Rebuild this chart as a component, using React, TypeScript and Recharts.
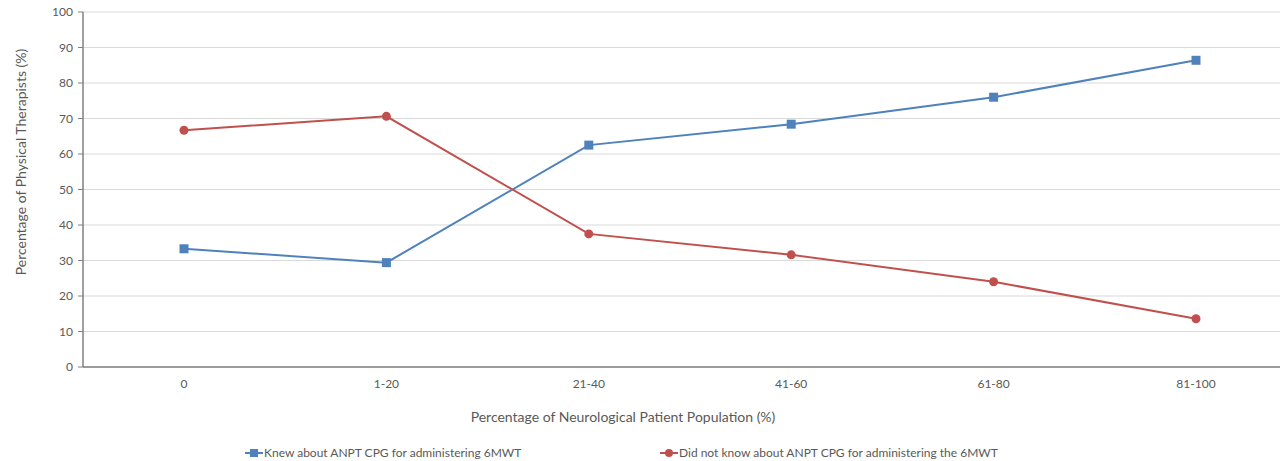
import { CartesianGrid, Legend, Line, LineChart, XAxis, YAxis } from "recharts";

const categories = ["0", "1-20", "21-40", "41-60", "61-80", "81-100"];
const knew = [33.3, 29.4, 62.5, 68.4, 76.0, 86.4];
const didNotKnow = [66.7, 70.6, 37.5, 31.6, 24.0, 13.6];
const yTicks = [0, 10, 20, 30, 40, 50, 60, 70, 80, 90, 100];
const seriesOrder = ["knew", "didNotKnow"];

const data = categories.map((c, i) => ({
  cat: c,
  knew: knew[i],
  didNotKnow: didNotKnow[i],
}));

const FONT = "Lato, 'Open Sans', sans-serif";
const BLUE = "#4F81BD";
const RED = "#C0504D";
const TEXT = "#595959";

const SquareDot = (props: any) => {
  const { cx, cy } = props;
  if (cx == null || cy == null) return null;
  return <rect x={cx - 4.5} y={cy - 4.5} width={9} height={9} fill={BLUE} />;
};

const legendOffsets = [245, 660];

const LegendContent = (props: any) => {
  const items = [...(props.payload || [])].sort(
    (a: any, b: any) => seriesOrder.indexOf(a.dataKey) - seriesOrder.indexOf(b.dataKey)
  );
  return (
    <div style={{ position: "relative", height: 16, fontFamily: FONT, fontSize: 12, color: TEXT }}>
      {items.map((p: any, i: number) => (
        <div
          key={p.value}
          style={{ position: "absolute", left: legendOffsets[i], top: 0, display: "flex", alignItems: "center", whiteSpace: "nowrap" }}
        >
          <svg width={18} height={10} style={{ marginRight: 1 }}>
            <line x1={0} y1={5} x2={18} y2={5} stroke={p.color} strokeWidth={2} />
            {p.dataKey === "knew" ? (
              <rect x={5} y={1} width={8} height={8} fill={p.color} />
            ) : (
              <circle cx={9} cy={5} r={4} fill={p.color} />
            )}
          </svg>
          <span>{p.value}</span>
        </div>
      ))}
    </div>
  );
};

export default function App() {
  return (
    <div style={{ marginLeft: -8, marginTop: -8, width: 1288, height: 461, overflow: "hidden", background: "#fff" }}>
      <LineChart width={1300} height={461} data={data} margin={{ top: 12, right: 3, bottom: 0, left: 0 }}>
        <CartesianGrid vertical={false} stroke="#D9D9D9" strokeWidth={1} />
        <XAxis
          dataKey="cat"
          height={78}
          padding={{ left: 101, right: 101 }}
          tickLine={false}
          tickMargin={6}
          axisLine={{ stroke: "#808080", strokeWidth: 1.5 }}
          tick={{ fill: TEXT, fontSize: 12, fontFamily: FONT }}
        />
        <YAxis
          width={83}
          domain={[0, 100]}
          ticks={yTicks}
          interval={0}
          tickSize={5}
          tickMargin={5}
          axisLine={{ stroke: "#808080", strokeWidth: 1.5 }}
          tickLine={{ stroke: "#808080" }}
          tick={{ fill: TEXT, fontSize: 12, fontFamily: FONT }}
        />
        <Line
          dataKey="knew"
          name="Knew about ANPT CPG for administering 6MWT"
          stroke={BLUE}
          strokeWidth={2}
          dot={<SquareDot />}
          isAnimationActive={false}
        />
        <Line
          dataKey="didNotKnow"
          name="Did not know about ANPT CPG for administering the 6MWT"
          stroke={RED}
          strokeWidth={2}
          dot={{ r: 4.5, fill: RED, stroke: RED, strokeWidth: 0 }}
          isAnimationActive={false}
        />
        <Legend
          content={<LegendContent />}
          wrapperStyle={{ position: "absolute", top: 445, left: 0, width: 1300, bottom: "auto" }}
        />
        <text
          x={20}
          y={162}
          transform="rotate(-90 20 162)"
          textAnchor="middle"
          dominantBaseline="central"
          fill={TEXT}
          fontSize={14}
          fontFamily={FONT}
        >
          Percentage of Physical Therapists (%)
        </text>
        <text
          x={623}
          y={416}
          textAnchor="middle"
          dominantBaseline="central"
          fill={TEXT}
          fontSize={14}
          fontFamily={FONT}
        >
          Percentage of Neurological Patient Population (%)
        </text>
      </LineChart>
    </div>
  );
}
